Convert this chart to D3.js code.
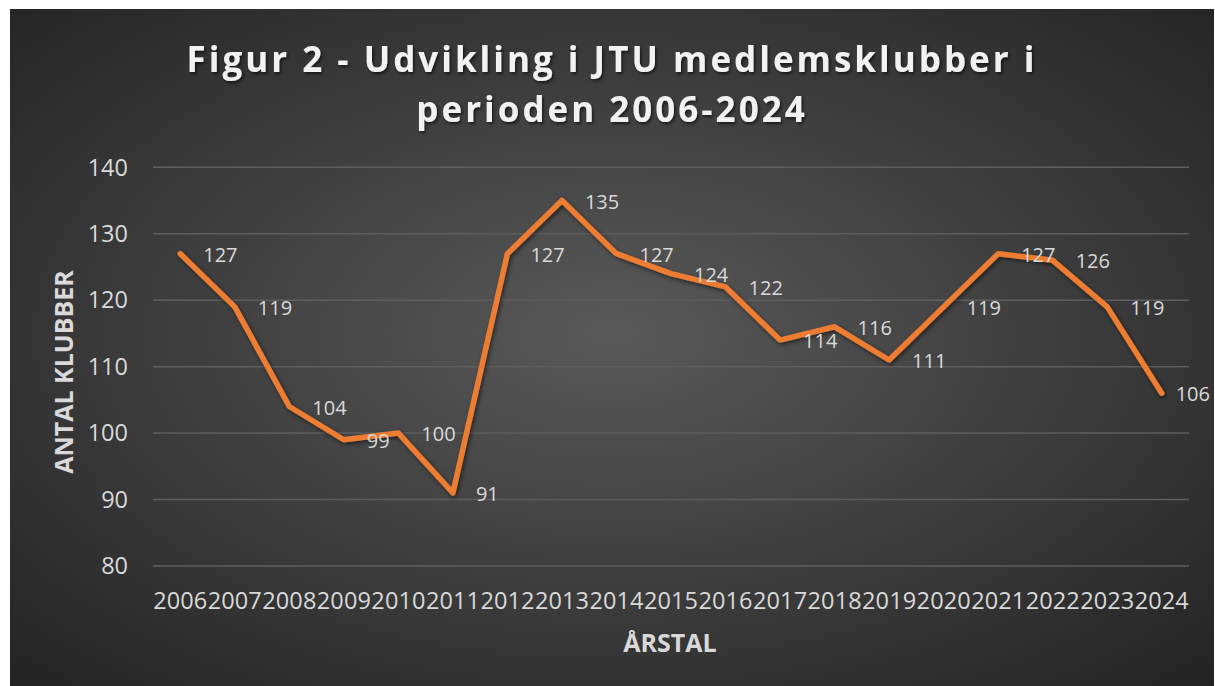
<!DOCTYPE html>
<html>
<head>
<meta charset="utf-8">
<script src="https://cdn.jsdelivr.net/npm/d3@7"></script>
<style>
  body { margin: 0; background: #fff; }
  svg { display: block; }
</style>
</head>
<body>
<div id="chart"></div>
<script>
const years = ["2006", "2007", "2008", "2009", "2010", "2011", "2012", "2013", "2014", "2015",
  "2016", "2017", "2018", "2019", "2020", "2021", "2022", "2023", "2024"];
const clubs = [127, 119, 104, 99, 100, 91, 127, 135, 127, 124, 122, 114, 116, 111, 119, 127, 126, 119, 106];
const yTicks = [80, 90, 100, 110, 120, 130, 140];
const titleLines = ["Figur 2 - Udvikling i JTU medlemsklubber i", "perioden 2006-2024"];

const W = 1215, H = 686;
const frame = { x: 10, y: 9, w: 1204, h: 677 };
const plot = { left: 153, right: 1189, top: 167.3, bottom: 566 };

const svg = d3.select("#chart").append("svg")
  .attr("width", W).attr("height", H);

const defs = svg.append("defs");
const grad = defs.append("radialGradient").attr("id", "bg")
  .attr("cx", "50%").attr("cy", "48%").attr("r", "72%");
grad.append("stop").attr("offset", "0%").attr("stop-color", "#595959");
grad.append("stop").attr("offset", "100%").attr("stop-color", "#232323");

const shadow = defs.append("filter").attr("id", "shadow")
  .attr("x", "-10%").attr("y", "-10%").attr("width", "120%").attr("height", "120%");
shadow.append("feDropShadow").attr("dx", 1.5).attr("dy", 2).attr("stdDeviation", 2)
  .attr("flood-color", "#000").attr("flood-opacity", 0.55);

const tshadow = defs.append("filter").attr("id", "tshadow")
  .attr("x", "-5%").attr("y", "-20%").attr("width", "110%").attr("height", "140%");
tshadow.append("feDropShadow").attr("dx", 1.5).attr("dy", 2).attr("stdDeviation", 1.5)
  .attr("flood-color", "#000").attr("flood-opacity", 0.6);

svg.append("rect")
  .attr("x", frame.x).attr("y", frame.y)
  .attr("width", frame.w).attr("height", frame.h)
  .attr("fill", "url(#bg)");

const x = d3.scaleBand().domain(years).range([plot.left, plot.right]);
const y = d3.scaleLinear().domain([80, 140]).range([plot.bottom, plot.top]);

// gridlines
svg.append("g")
  .selectAll("line")
  .data(yTicks)
  .join("line")
  .attr("x1", plot.left).attr("x2", plot.right)
  .attr("y1", d => y(d)).attr("y2", d => y(d))
  .attr("stroke", "#5e5e5e").attr("stroke-width", 1.5);

// y axis labels
svg.append("g")
  .selectAll("text")
  .data(yTicks)
  .join("text")
  .attr("x", 128).attr("y", d => y(d))
  .attr("dy", "0.35em")
  .attr("text-anchor", "end")
  .attr("fill", "#d9d9d9")
  .style("font", "23.5px 'Open Sans'")
  .text(d => d);

// x axis labels
svg.append("g")
  .selectAll("text")
  .data(years)
  .join("text")
  .attr("x", d => x(d) + x.bandwidth() / 2).attr("y", 609)
  .attr("text-anchor", "middle")
  .attr("fill", "#d9d9d9")
  .style("font", "23.5px 'Open Sans'")
  .attr("textLength", x.bandwidth() - 0.5)
  .text(d => d);

// line
const line = d3.line()
  .x((d, i) => x(years[i]) + x.bandwidth() / 2)
  .y(d => y(d));

svg.append("path")
  .datum(clubs)
  .attr("d", line)
  .attr("fill", "none")
  .attr("stroke", "#ed7d31")
  .attr("stroke-width", 5.5)
  .attr("stroke-linejoin", "round")
  .attr("stroke-linecap", "round")
  .attr("filter", "url(#shadow)");

// data labels (right of point), kept inside the frame
svg.append("g")
  .selectAll("text")
  .data(clubs)
  .join("text")
  .attr("y", d => y(d) + 1)
  .attr("dy", "0.35em")
  .attr("fill", "#d9d9d9")
  .style("font", "20px 'Open Sans'")
  .text(d => d)
  .attr("x", function (d, i) {
    const px = x(years[i]) + x.bandwidth() / 2 + 23;
    const w = this.getComputedTextLength();
    return Math.min(px, frame.x + frame.w - 4 - w);
  });

// title
const title = svg.append("g").attr("filter", "url(#tshadow)");
title.selectAll("text")
  .data(titleLines)
  .join("text")
  .attr("x", 612)
  .attr("y", (d, i) => 72 + i * 50)
  .attr("text-anchor", "middle")
  .attr("fill", "#f2f2f2")
  .style("font", "bold 35px 'Open Sans'")
  .style("letter-spacing", "3px")
  .text(d => d);

// axis titles
svg.append("text")
  .attr("x", 670).attr("y", 652)
  .attr("text-anchor", "middle")
  .attr("fill", "#d9d9d9")
  .style("font", "bold 25px 'Open Sans'")
  .text("ÅRSTAL");

svg.append("text")
  .attr("transform", "translate(73,372) rotate(-90)")
  .attr("text-anchor", "middle")
  .attr("fill", "#d9d9d9")
  .style("font", "bold 25px 'Open Sans'")
  .text("ANTAL KLUBBER");
</script>
</body>
</html>
